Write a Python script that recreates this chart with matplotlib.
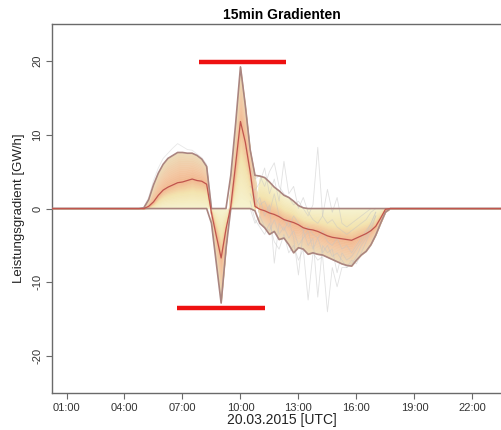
import numpy as np
import matplotlib
matplotlib.use("Agg")
import matplotlib.pyplot as plt
from matplotlib.colors import LinearSegmentedColormap

plt.rcParams["font.family"] = ["Liberation Sans", "DejaVu Sans"]
plt.rcParams["axes.unicode_minus"] = False

# time grid, 15 min steps (hours UTC)
FULL_T = np.arange(0.25, 24.01, 0.25)
WIN_START = 4.75  # first value of the active window below

# envelope / median of the fan, 4.75 .. 17.75 h
UPPER = [0.0, 0.1, 1.2, 3.2, 4.8, 6.0, 6.8, 7.2, 7.6, 7.6, 7.5, 7.5, 7.2, 6.7, 5.7,
         0.0, 0.0, 0.0, 0.0, 4.5, 11.5, 19.2, 14.0, 8.0, 4.5, 4.4, 4.2, 3.6, 2.9,
         2.4, 1.8, 1.5, 1.0, 0.4, 0.1, 0.0, 0.0, 0.0, 0.0, 0.0, 0.0, 0.0, 0.0, 0.0,
         0.0, 0.0, 0.0, 0.0, 0.0, 0.0, 0.0, 0.0, 0.0]
MEDIAN = [0.0, 0.0, 0.3, 0.9, 1.8, 2.5, 2.9, 3.2, 3.5, 3.6, 3.8, 4.0, 3.8, 3.7, 3.3,
          -0.6, -3.7, -6.7, -2.8, 0.3, 6.0, 11.8, 9.0, 5.0, 0.3, -0.1, -0.3, -0.6, -0.8,
          -1.1, -1.5, -1.7, -1.9, -2.2, -2.6, -2.8, -2.9, -3.1, -3.4, -3.7, -3.9, -4.0, -4.1, -4.2,
          -4.3, -4.0, -3.7, -3.4, -3.0, -2.4, -1.3, -0.1, 0.0]
LOWER = [0.0, 0.0, 0.0, 0.0, 0.0, 0.0, 0.0, 0.0, 0.0, 0.0, 0.0, 0.0, 0.0, 0.0, 0.0,
         -2.0, -7.4, -12.8, -5.5, 0.0, 0.0, 0.0, 0.0, 0.0, -0.3, -2.0, -2.6, -3.5, -3.1,
         -4.2, -4.0, -4.9, -6.0, -5.3, -5.5, -6.2, -6.0, -6.2, -6.3, -6.6, -6.9, -7.2, -7.5, -7.7,
         -7.8, -7.0, -6.3, -5.8, -4.9, -3.6, -2.0, -0.5, 0.0]

# a few of the grey single runs
GREY_MORNING_START = 5.0
GREY_MORNING = [0.2, 1.5, 3.8, 5.5, 6.8, 7.5, 8.2, 8.8, 8.4, 8.0, 7.9, 7.4, 6.9, 6.0, 0.5]
GREY_START = 10.5
GREY_RUNS = [
    [5.5, 4.0, 4.5, 3.0, 5.0, 6.2, 3.0, 2.0, 1.5, 0.5, 1.0, 0.0, -1.0, 0.5, 8.3, -1.0,
     -2.0, -1.5, -2.5, -3.0, -3.5, -3.0, -2.5, -2.0, -1.5, -0.5, 0.0],
    [2.0, 0.5, 1.5, -1.0, 0.5, -7.4, -2.0, -3.0, -1.5, -4.0, -9.0, -3.0, -5.0, -4.0, -12.0, -5.0,
     -6.0, -5.5, -8.7, -6.0, -7.0, -6.5, -5.5, -4.5, -3.5, -2.0, -0.5],
    [3.0, 2.5, 3.5, 5.5, 2.0, 4.0, 1.0, 6.4, 2.0, 3.0, 0.0, 1.5, -0.5, -1.5, -2.0, -1.0,
     2.6, -0.5, 1.5, -2.0, -2.5, -2.0, -1.5, -1.0, -0.5, 0.0, 0.0],
    [1.0, -1.5, -2.5, -3.5, -2.0, -4.5, -5.5, -3.5, -6.0, -5.0, -7.0, -5.5, -12.4, -6.0, -7.0, -6.5,
     -14.0, -8.0, -10.6, -8.0, -8.0, -7.0, -7.5, -6.0, -4.5, -3.0, -1.0],
    [4.0, 1.5, 0.5, 1.0, -0.5, 2.0, -1.0, -1.5, -2.5, -1.0, -2.0, -3.0, -2.5, -3.5, -4.0, -3.0,
     -4.5, -5.0, -4.0, -5.5, -5.0, -6.0, -5.0, -4.0, -3.0, -2.0, -0.5],
    [0.0, -2.0, -1.0, -2.5, -3.0, -1.5, -3.5, -2.5, -4.0, -3.0, -5.0, -4.0, -3.0, -5.5, -4.0, -6.0,
     -5.0, -6.5, -6.0, -7.0, -8.0, -7.5, -6.5, -5.0, -4.0, -2.5, -1.0],
]

# red marker bars: (start h, end h, value)
BAR_TOP = [7.83, 12.38, 19.9]
BAR_BOTTOM = [6.74, 11.29, -13.5]

XTICKS = [1, 4, 7, 10, 13, 16, 19, 22]
XTICK_LABELS = ["01:00", "04:00", "07:00", "10:00", "13:00", "16:00", "19:00", "22:00"]
YTICKS = [-20, -10, 0, 10, 20]


def on_full_grid(values, start):
    out = np.zeros_like(FULL_T)
    i0 = int(round((start - FULL_T[0]) / 0.25))
    out[i0:i0 + len(values)] = values
    return out


upper = on_full_grid(UPPER, WIN_START)
median = on_full_grid(MEDIAN, WIN_START)
lower = on_full_grid(LOWER, WIN_START)

# colour runs from the zero side (pale yellow) over the median (orange) to the outer edge
inner = np.where(median >= 0, lower, upper)
outer = np.where(median >= 0, upper, lower)

cmap = LinearSegmentedColormap.from_list(
    "fan", [(0.0, "#f6f3d0"), (0.3, "#f3e4ae"), (0.5, "#f2b890"),
            (0.72, "#f3c9a4"), (1.0, "#eddbb8")])


def level(s):
    if s <= 0.5:
        return inner + (median - inner) * (s / 0.5)
    return median + (outer - median) * ((s - 0.5) / 0.5)


fig = plt.figure(figsize=(5.01, 4.30), dpi=100)
ax = fig.add_axes([0.1038, 0.086, 0.9163, 0.858])

n_band = 30
for k in range(n_band):
    s0, s1 = k / n_band, (k + 1) / n_band
    c = cmap((s0 + s1) / 2)
    ax.fill_between(FULL_T, level(s0), level(s1), color=c, edgecolor=c,
                    linewidth=0.4, zorder=1)

t_grey = GREY_START + 0.25 * np.arange(len(GREY_RUNS[0]))
for run in GREY_RUNS:
    ax.plot(t_grey, run, color="#c4c4c4", lw=0.6, alpha=0.5, zorder=2)
t_morning = GREY_MORNING_START + 0.25 * np.arange(len(GREY_MORNING))
ax.plot(t_morning, GREY_MORNING, color="#cccccc", lw=0.6, alpha=0.45, zorder=2)

ax.plot(FULL_T, upper, color="#aa8580", lw=1.2, zorder=3)
ax.plot(FULL_T, lower, color="#aa8580", lw=1.2, zorder=3)
ax.plot(FULL_T, median, color="#c0554d", lw=0.9, zorder=4)

for x0, x1, y in (BAR_TOP, BAR_BOTTOM):
    ax.plot([x0, x1], [y, y], color="#ee1111", lw=3.2, solid_capstyle="butt", zorder=5)

ax.set_xlim(0.25, 24.0)
ax.set_ylim(-25, 25)
ax.set_xticks(XTICKS)
ax.set_xticklabels(XTICK_LABELS)
ax.set_yticks(YTICKS)
ax.set_yticklabels([str(v) for v in YTICKS], rotation=90, va="center")

for sp in ax.spines.values():
    sp.set_color("#6a6a6a")
    sp.set_linewidth(1.0)
ax.tick_params(direction="out", length=4, width=0.8, color="#6a6a6a",
               labelsize=8, labelcolor="#333333", pad=3)

ax.set_title("15min Gradienten", fontsize=10, fontweight="bold", pad=4)
ax.set_xlabel("20.03.2015 [UTC]", fontsize=10, color="#222222", labelpad=0)
ax.set_ylabel("Leistungsgradient [GW/h]", fontsize=9.5, color="#222222", labelpad=5)

fig.savefig("out.png", dpi=100)
